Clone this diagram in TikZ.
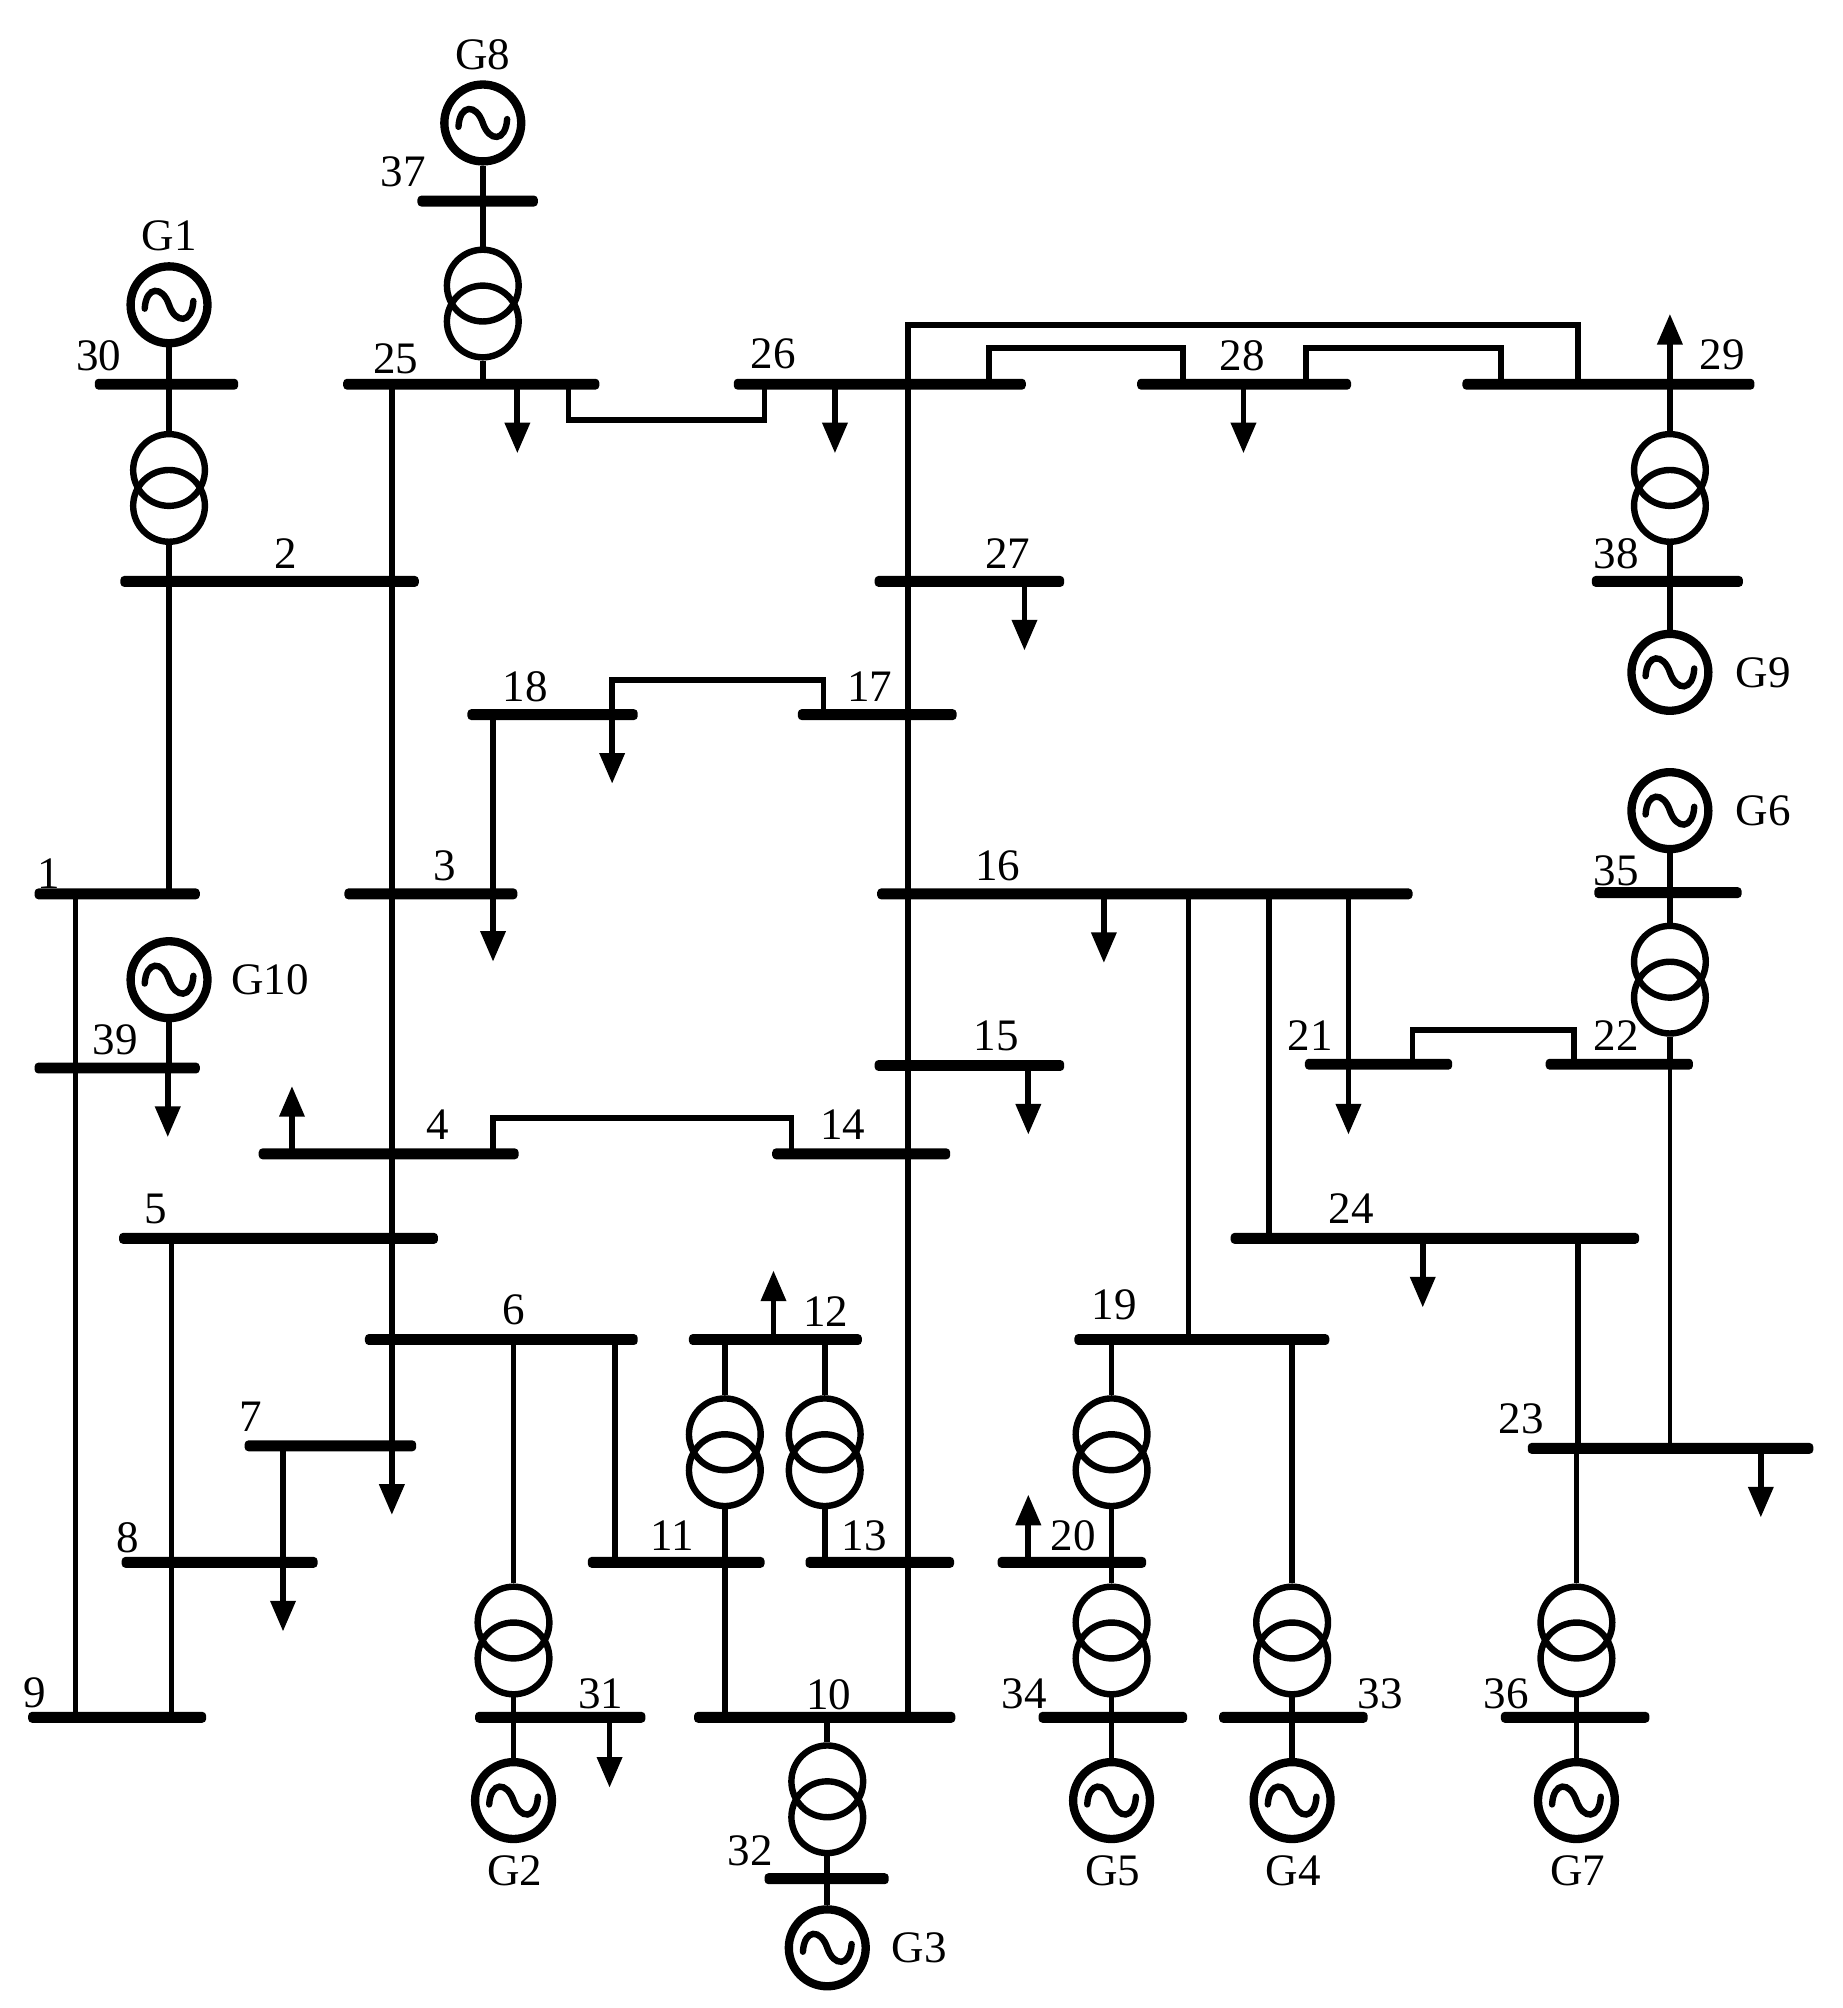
\documentclass[tikz,border=0pt]{standalone}
\usepackage{fontspec}
\setmainfont{Liberation Serif}
\usetikzlibrary{arrows.meta}

\begin{document}
\begin{tikzpicture}[x=0.01cm,y=-0.01cm,
    busbar/.style={fill=black,rectangle,rounded corners=0.03cm,inner sep=0pt,minimum height=0.085cm},
    feeder/.style={line width=0.045cm},
    thinfeeder/.style={line width=0.03cm},
    loadarrow/.style={line width=0.045cm,-{Triangle[length=0.24cm,width=0.19cm]}},
    winding/.style={draw,circle,inner sep=0pt,line width=0.05cm,minimum size=0.56cm},
    gen/.style={draw,circle,inner sep=0pt,line width=0.065cm,minimum size=0.60cm,
      path picture={\draw[line width=0.05cm,line cap=round,shift={(path picture bounding box.center)}]
        (-19,3) .. controls (-18,-15) and (-5,-15) .. (0,0) .. controls (5,15) and (18,15) .. (19,-3);}},
    lbl/.style={inner sep=0pt,font=\fontsize{10}{12}\selectfont}]
  \useasboundingbox (0,-1) rectangle (1439,1567);
  % busbars: number / left / right / level
  \foreach \n/\p/\q/\y in {30/74/186/299,25/268/468/299,26/573/801/299,28/888/1055/299,29/1142/1370/299,
      37/326/420/156,2/94/327/453,27/683/831/453,38/1243/1361/453,18/365/498/557,17/623/747/557,
      1/27/156/697,3/269/404/697,16/685/1103/697,35/1245/1360/696,39/27/156/833,15/683/831/831,
      21/1019/1134/830,22/1207/1322/830,4/202/405/900,14/603/742/900,5/93/342/966,24/961/1280/966,
      6/285/498/1045,12/538/673/1045,19/839/1038/1045,7/191/325/1128,23/1193/1416/1130,8/95/248/1219,
      11/459/597/1219,13/629/745/1219,20/779/895/1219,9/22/161/1340,31/371/504/1340,10/542/746/1340,
      34/811/927/1340,33/952/1068/1340,36/1172/1288/1340,32/597/694/1466}
    { \node[busbar,minimum width={(\q-\p)*0.01cm}] (b\n) at ({(\p+\q)/2},\y) {}; }
  % generators
  \foreach \n/\x/\y in {8/377/95,1/132/237,9/1304/524,6/1304/632,10/132/764,2/401/1405,
      5/868/1405,4/1009/1405,7/1231/1405,3/646/1520}
    { \node[gen] (g\n) at (\x,\y) {}; }
  % transformers, named after the far bus
  \foreach \n/\x/\y in {37/377/236,30/132/380,38/1304/380,35/1304/764,11/566/1133,13/644/1133,19/868/1133,
      6/401/1280,34/868/1280,33/1009/1280,36/1231/1280,32/646/1404}
    { \node[winding] (t\n a) at (\x,\y-14) {};
      \node[winding] (t\n b) at (\x,\y+14) {}; }
  % stubs from a machine or a winding to its bus
  \foreach \p/\q in {g8.south/b37,t37a.north/b37,t37b.south/b25,g1.south/b30,t30a.north/b30,t30b.south/b2,
      g9.north/b38,t38b.south/b38,t38a.north/b29,g6.south/b35,t35a.north/b35,t35b.south/b22,
      t6a.north/b6,t6b.south/b31,g2.north/b31,t11a.north/b12,t11b.south/b11,t13a.north/b12,t13b.south/b13,
      t19a.north/b19,t19b.south/b20,t34a.north/b20,t34b.south/b34,g5.north/b34,
      t33a.north/b19,t33b.south/b33,g4.north/b33,t36a.north/b23,t36b.south/b36,g7.north/b36,
      t32a.north/b10,t32b.south/b32,g3.north/b32,g10.south/b39}
    { \draw[feeder] (\p) -- (\p |- \q); }
  % straight lines between buses
  \foreach \x/\p/\q in {132/2/1,306/25/7,59/1/9,134/5/9,928/16/19,991/16/24,1053/16/21,
      1232/24/23,566/11/10,480/6/11,221/7/8,709/26/10}
    { \draw[feeder] (\x,0 |- b\p) -- (\x,0 |- b\q); }
  \draw[thinfeeder] (1304,0 |- b22) -- (1304,0 |- b23);
  % lines with two bends
  \foreach \p/\xa/\q/\xb/\y in {25/444/26/597/327,26/772/28/924/271,28/1020/29/1172/271,26/709/29/1232/253,
      18/478/17/643/530,4/385/14/618/872,21/1103/22/1229/803}
    { \draw[feeder,line join=miter] (\xa,0 |- b\p) -- (\xa,\y) -- (\xb,\y) -- (\xb,0 |- b\q); }
  % loads: name / bus / tip
  \foreach \n/\p/\x/\y in {25/25/404/353,26/26/652/353,28/28/971/353,27/27/800/507,18/18/478/611,3/18/385/750,
      16/16/862/751,15/15/803/885,39/39/131/887,21/21/1053/885,24/24/1111/1020,23/23/1375/1184,7/7/306/1182,
      8/8/221/1273,31/31/476/1395,29/29/1304/244,4/4/228/847,12/12/604/991,20/20/803/1166}
    { \coordinate (a\n) at (\x,\y);
      \draw[loadarrow] (a\n |- b\p) -- (a\n); }
  % bus numbers
  \foreach \n/\x/\y in {30/77/277,25/309/279,26/604/275,28/970/277,29/1345/276,37/315/133,2/223/431,27/787/431,
      38/1262/431,18/410/535,17/679/535,1/38/681,3/347/675,16/779/675,35/1262/679,39/90/811,15/778/808,
      21/1023/808,22/1262/808,4/342/877,14/658/877,5/122/943,24/1055/943,6/401/1022,12/645/1023,19/870/1018,
      7/196/1105,23/1188/1107,8/100/1200,11/525/1198,13/675/1198,20/838/1198,9/27/1321,31/469/1322,10/647/1322,
      34/800/1322,33/1078/1322,36/1176/1322,32/586/1444}
    { \node[lbl] (n\n) at (\x,\y) {\n}; }
  % machine names
  \foreach \n/\x/\y in {8/377/42,1/132/183,9/1377/524,6/1377/632,10/211/764,2/402/1460,5/869/1460,
      4/1010/1460,7/1232/1460,3/718/1520}
    { \node[lbl] (m\n) at (\x,\y) {G\n}; }
\end{tikzpicture}
\end{document}
